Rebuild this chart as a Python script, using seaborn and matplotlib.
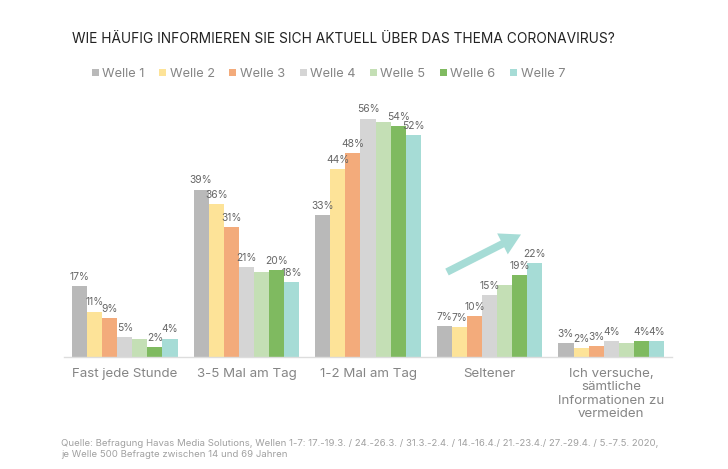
import pandas as pd
import seaborn as sns
import matplotlib.pyplot as plt

categories = ['Fast jede Stunde', '3-5 Mal am Tag', '1-2 Mal am Tag', 'Seltener',
              'Ich versuche,\nsämtliche\nInformationen zu\nvermeiden']
wellen = ['Welle 1', 'Welle 2', 'Welle 3', 'Welle 4', 'Welle 5', 'Welle 6', 'Welle 7']

welle_1 = [16.5, 39.1, 33.1, 7.3, 3.3]
welle_2 = [10.6, 35.8, 43.9, 7.0, 2.0]
welle_3 = [9.1, 30.4, 47.7, 9.5, 2.5]
welle_4 = [4.6, 21.0, 55.7, 14.5, 3.7]
welle_5 = [4.1, 19.9, 55.0, 16.9, 3.3]
welle_6 = [2.3, 20.3, 53.9, 19.1, 3.7]
welle_7 = [4.3, 17.5, 51.8, 22.0, 3.7]

# printed labels, Welle 5 has none in the original
labels_1 = ['17%', '39%', '33%', '7%', '3%']
labels_2 = ['11%', '36%', '44%', '7%', '2%']
labels_3 = ['9%', '31%', '48%', '10%', '3%']
labels_4 = ['5%', '21%', '56%', '15%', '4%']
labels_5 = ['', '', '', '', '']
labels_6 = ['2%', '20%', '54%', '19%', '4%']
labels_7 = ['4%', '18%', '52%', '22%', '4%']

colors = ['#b9b9b9', '#fde398', '#f3ab7b', '#d5d5d5', '#c4dfb5', '#7fba60', '#a6dcd6']

df = pd.DataFrame({
    'Kategorie': categories * 7,
    'Welle': [w for w in wellen for _ in categories],
    'Wert': welle_1 + welle_2 + welle_3 + welle_4 + welle_5 + welle_6 + welle_7,
})

sns.set_theme(style='white')
plt.rcParams['font.family'] = ['Inter', 'DejaVu Sans']

fig = plt.figure(figsize=(7.28, 4.69), dpi=100)
ax = fig.add_axes([64 / 728, (469 - 357) / 469, 608 / 728, 245 / 469])

sns.barplot(data=df, x='Kategorie', y='Wert', hue='Welle', palette=colors,
            width=0.868, gap=0, saturation=1, linewidth=0, edgecolor='none', ax=ax)

ax.set_xlim(-0.5, 4.5)
ax.set_ylim(0, 245 / 4.28)
ax.set_xlabel('')
ax.set_ylabel('')
ax.set_yticks([])
ax.tick_params(axis='x', length=0, pad=8, labelsize=9.6, labelcolor='#858585')
for t in ax.get_xticklabels():
    t.set_linespacing(1.15)
sns.despine(ax=ax, left=True)
ax.spines['bottom'].set_color('#dddddd')
ax.spines['bottom'].set_linewidth(1)

all_labels = [labels_1, labels_2, labels_3, labels_4, labels_5, labels_6, labels_7]
for container, labels in zip(ax.containers, all_labels):
    ax.bar_label(container, labels=labels, padding=3, fontsize=7.4, color='#666666')

# rising trend arrow above Seltener
ax.annotate('', xy=(521, 469 - 234.5), xytext=(447, 469 - 272), xycoords='figure pixels',
            textcoords='figure pixels',
            arrowprops=dict(arrowstyle='simple,head_length=1.15,head_width=1.3,tail_width=0.42',
                            mutation_scale=13, color='#a6dcd6', lw=0, shrinkA=0, shrinkB=0))

handles, names = ax.get_legend_handles_labels()
ax.legend(handles, names, ncol=7, frameon=False, loc='center left',
          bbox_to_anchor=(92 / 728, (469 - 74) / 469), bbox_transform=fig.transFigure,
          borderaxespad=0, borderpad=0, handlelength=0.55, handleheight=0.55,
          handletextpad=0.25, columnspacing=1.16, prop={'size': 9.2}, labelcolor='#858585')

fig.text(72 / 728, (469 - 39) / 469, 'WIE HÄUFIG INFORMIEREN SIE SICH AKTUELL ÜBER DAS THEMA CORONAVIRUS?',
         fontsize=9.9, color='#222222', va='center', ha='left')
fig.text(61 / 728, (469 - 449) / 469,
         'Quelle: Befragung Havas Media Solutions, Wellen 1-7: 17.-19.3. / 24.-26.3. / 31.3.-2.4. / 14.-16.4./ '
         '21.-23.4./ 27.-29.4. / 5.-7.5. 2020,\nje Welle 500 Befragte zwischen 14 und 69 Jahren',
         fontsize=6.9, color='#a0a0a0', va='center', ha='left', linespacing=1.2)

fig.savefig('out.png', dpi=100)
plt.close(fig)
